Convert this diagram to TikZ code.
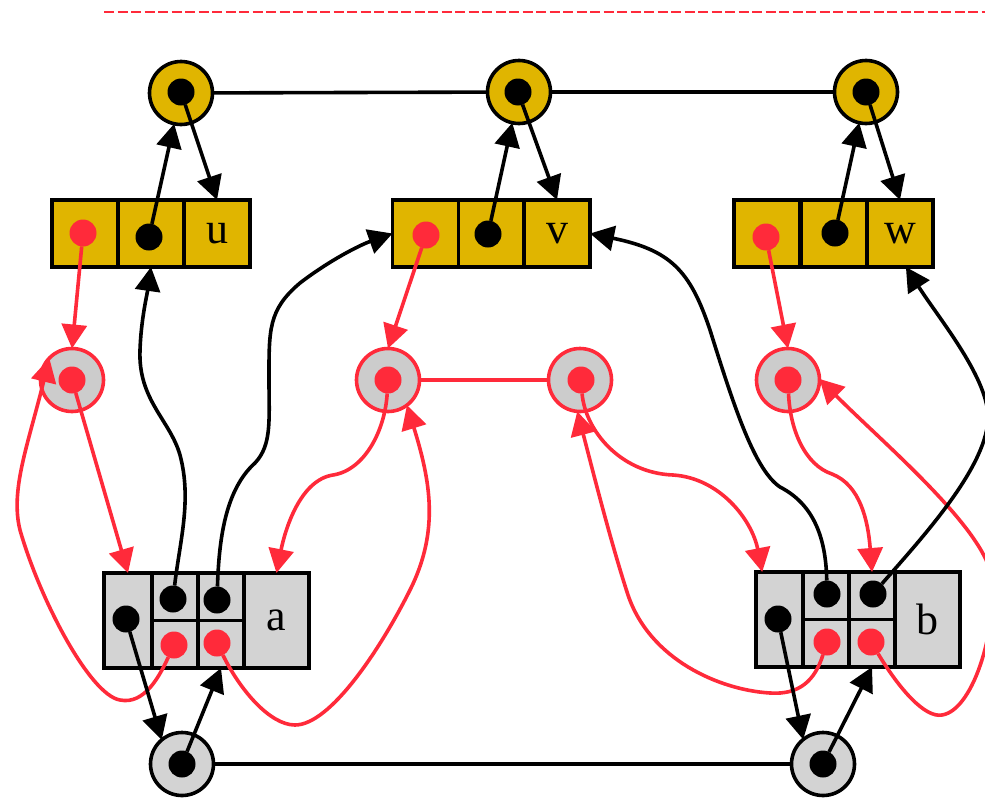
\documentclass[tikz,border=0pt]{standalone}
\usepackage{fontspec}
\setmainfont{Liberation Serif}
\usetikzlibrary{arrows.meta}
\definecolor{gold}{RGB}{224,181,0}
\definecolor{hot}{RGB}{255,42,58}
\definecolor{cellgray}{RGB}{211,211,211}
\definecolor{ringgray}{RGB}{204,204,204}
\begin{document}
\begin{tikzpicture}[x=1pt,y=-1pt,line width=3.6pt,
  every node/.style={inner sep=0pt,outer sep=0pt},
  lbl/.style={font=\fontsize{44}{44}\selectfont},
  gcell/.style={draw,fill=gold,minimum width=66pt,minimum height=67pt,lbl},
  scell/.style={draw,fill=cellgray,minimum height=95pt,lbl},
  hcell/.style={draw,fill=cellgray,minimum height=47.5pt},
  dotk/.style={circle,fill=black,minimum size=27pt},
  dotr/.style={circle,fill=hot,minimum size=27pt},
  ringy/.style={circle,draw,fill=gold,minimum size=63pt},
  ringr/.style={circle,draw=hot,fill=ringgray,minimum size=63pt},
  ringg/.style={circle,draw,fill=cellgray,minimum size=63pt},
  arr/.style={-{Triangle[length=24pt,width=25pt]}},
  kline/.style={draw=black},
  rline/.style={draw=hot}]
\useasboundingbox (0,0) rectangle (985,798);
\clip (0,0) rectangle (985,798);

% dashed rule along the top
\coordinate (rs) at (104,12);
\coordinate (re) at (990,12);
\draw[hot,line width=1.6pt,dash pattern=on 10pt off 3.5pt] (rs) -- (re);

% top rings
\node[ringy] (t1) at (181,93) {};
\node[ringy] (t2) at (519,92) {};
\node[ringy] (t3) at (866,92) {};
\node[dotk] (t1d) at (181,92) {};
\node[dotk] (t2d) at (518,92) {};
\node[dotk] (t3d) at (866,92) {};

% three gold records
\node[gcell] (u1) at (85,233.5) {};
\node[gcell] (u2) at (151,233.5) {};
\node[gcell] (u3) at (217,233.5) {u};
\node[gcell] (v1) at (425.5,233.5) {};
\node[gcell] (v2) at (491.5,233.5) {};
\node[gcell] (v3) at (557,233.5) {v};
\node[gcell] (w1) at (767,233.5) {};
\node[gcell] (w2) at (834,233.5) {};
\node[gcell] (w3) at (900,233.5) {w};
\node[dotr] (ur) at (83,233) {};
\node[dotk] (uk) at (149,237) {};
\node[dotr] (vr) at (426,235) {};
\node[dotk] (vk) at (488,234) {};
\node[dotr] (wr) at (766,237) {};
\node[dotk] (wk) at (835,233) {};

% middle rings
\node[ringr] (m1) at (72,380) {};
\node[ringr] (m2) at (388,380) {};
\node[ringr] (m3) at (580,380) {};
\node[ringr] (m4) at (788,380) {};
\node[dotr] (m1d) at (72,380) {};
\node[dotr] (m2d) at (388,380) {};
\node[dotr] (m3d) at (581,380) {};
\node[dotr] (m4d) at (788,380) {};

% record a
\node[scell,minimum width=48pt] (a1) at (128,620.5) {};
\node[hcell,minimum width=46pt] (a2u) at (175,596.75) {};
\node[hcell,minimum width=46pt] (a2l) at (175,644.25) {};
\node[hcell,minimum width=46pt] (a3u) at (221,596.75) {};
\node[hcell,minimum width=46pt] (a3l) at (221,644.25) {};
\node[scell,minimum width=65pt] (a4) at (276.5,620.5) {a};
\node[dotk] (ak0) at (126,619) {};
\node[dotk] (ak1) at (173,599) {};
\node[dotk] (ak2) at (217,600) {};
\node[dotr] (ar1) at (174,645) {};
\node[dotr] (ar2) at (217,643) {};

% record b
\node[scell,minimum width=47pt] (b1) at (779.5,619.5) {};
\node[hcell,minimum width=46pt] (b2u) at (826,595.75) {};
\node[hcell,minimum width=46pt] (b2l) at (826,643.25) {};
\node[hcell,minimum width=46pt] (b3u) at (872,595.75) {};
\node[hcell,minimum width=46pt] (b3l) at (872,643.25) {};
\node[scell,minimum width=65pt] (b4) at (927.5,619.5) {b};
\node[dotk] (bk0) at (778,619) {};
\node[dotk] (bk1) at (827,594) {};
\node[dotk] (bk2) at (873,594) {};
\node[dotr] (br1) at (827,642) {};
\node[dotr] (br2) at (871,642) {};

% bottom rings
\node[ringg] (g1) at (182,764) {};
\node[ringg] (g2) at (823,764) {};
\node[dotk] (g1d) at (182,764) {};
\node[dotk] (g2d) at (823,764) {};

% plain links between rings
\draw[kline] (t1) -- (t2);
\draw[kline] (t2) -- (t3);
\draw[rline] (m2) -- (m3);
\draw[kline] (g1) -- (g2);

% top rings <-> gold records
\draw[kline,arr] (uk) -- (t1);
\draw[kline,arr] (t1d) -- (u3.north);
\draw[kline,arr] (vk) -- (t2);
\draw[kline,arr] (t2d) -- (v3.north);
\draw[kline,arr] (wk) -- (t3);
\draw[kline,arr] (t3d) -- (w3.north);

% gold records -> middle rings
\draw[rline,arr] (ur) -- (m1.north);
\draw[rline,arr] (vr) -- (m2.north);
\draw[rline,arr] (wr) -- (m4.north);

% middle rings -> records a and b
\draw[rline,arr] (m1d) -- (a1.north);
\draw[rline,arr] (m2d) .. controls (385,430) and (365,470) .. (333,475)
  .. controls (300,480) and (285,530) .. (a4.north);
\draw[rline,arr] (m3d) .. controls (585,430) and (620,473) .. (673,475)
  .. controls (720,478) and (752,520) .. (b1.110);
\draw[rline,arr] (m4d) .. controls (790,430) and (805,465) .. (832,474)
  .. controls (860,485) and (868,520) .. (b3u.north);

% records a and b -> middle rings
\draw[rline,arr] (ar1) .. controls (160,675) and (145,705) .. (120,700)
  .. controls (90,695) and (40,600) .. (20,530)
  .. controls (10,490) and (28,445) .. (m1.136);
\draw[rline,arr] (ar2) .. controls (240,690) and (270,725) .. (295,725)
  .. controls (330,725) and (380,650) .. (410,590)
  .. controls (440,530) and (430,480) .. (m2.-53);
\draw[rline,arr] (br1) .. controls (815,680) and (800,695) .. (770,693)
  .. controls (720,690) and (650,660) .. (628,595)
  .. controls (610,540) and (590,460) .. (m3.-95);
\draw[rline,arr] (br2) .. controls (900,690) and (925,718) .. (942,715)
  .. controls (975,710) and (1000,620) .. (990,570)
  .. controls (975,520) and (880,440) .. (m4.2);

% records a and b -> gold records
\draw[kline,arr] (ak1) .. controls (180,540) and (192,500) .. (180,455)
  .. controls (170,420) and (138,400) .. (140,350)
  .. controls (141,320) and (147,295) .. (u2.south);
\draw[kline,arr] (ak2) .. controls (219,540) and (225,490) .. (255,463)
  .. controls (272,445) and (269,420) .. (269,380)
  .. controls (269,330) and (268,310) .. (300,283)
  .. controls (330,260) and (360,245) .. (v1.west);
\draw[kline,arr] (bk1) .. controls (826,540) and (815,505) .. (780,487)
  .. controls (755,470) and (735,410) .. (710,330)
  .. controls (690,270) and (670,250) .. (v3.east);
\draw[kline,arr] (bk2) .. controls (920,540) and (985,470) .. (988,420)
  .. controls (990,380) and (940,320) .. (w3.-80);

% records a and b <-> bottom rings
\draw[kline,arr] (ak0) -- (g1.130);
\draw[kline,arr] (g1d) -- (a3l.south);
\draw[kline,arr] (bk0) -- (g2.129);
\draw[kline,arr] (g2d) -- (b3l.south);
\end{tikzpicture}
\end{document}
